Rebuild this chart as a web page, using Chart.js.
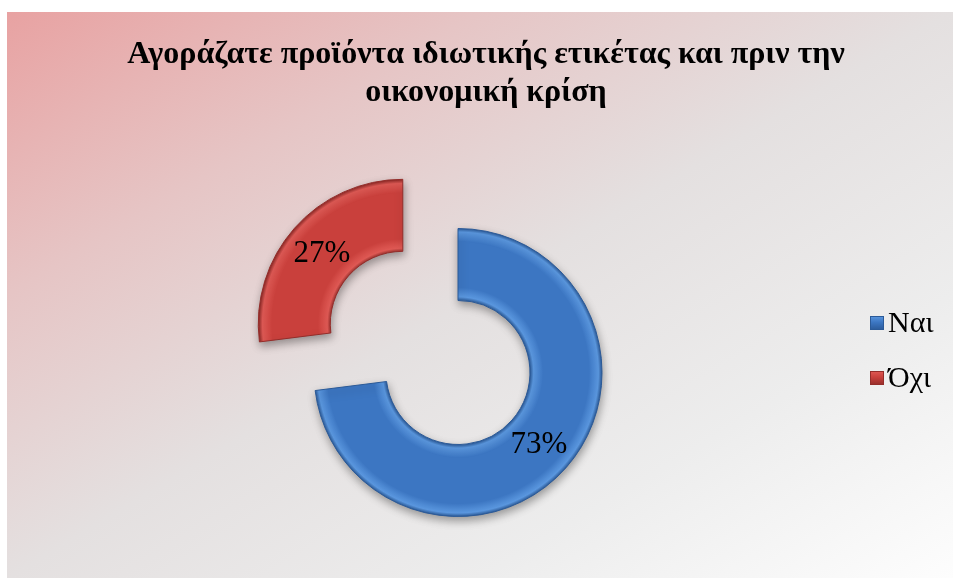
<!DOCTYPE html>
<html>
<head>
<meta charset="utf-8">
<script src="https://cdn.jsdelivr.net/npm/chart.js@4.4.1/dist/chart.umd.min.js"></script>
<style>
  html, body { margin: 0; padding: 0; background: #ffffff; }
  canvas { display: block; }
</style>
</head>
<body>
<canvas id="chart" width="955" height="581"></canvas>
<script>
// Chart content
const titleLines = ['Αγοράζατε προϊόντα ιδιωτικής ετικέτας και πριν την', 'οικονομική κρίση'];
const categories = ['Ναι', 'Όχι'];
const shares = [73, 27];

// Slice palette: highlight / body / edge tones
const sliceLight = ['#5b98e0', '#e05a55'];
const sliceBase = ['#3c76c2', '#c9403c'];
const sliceDark = ['#2b5a98', '#942d2a'];

const RING_RADIUS = 144;
const CUTOUT = 0.5;

function sliceFill(ctx) {
  const chart = ctx.chart;
  const area = chart.chartArea;
  const i = ctx.dataIndex;
  if (!area) return sliceBase[i];
  const cx = (area.left + area.right) / 2;
  const cy = (area.top + area.bottom) / 2;
  const rIn = RING_RADIUS * CUTOUT;
  const g = chart.ctx.createRadialGradient(cx, cy, rIn, cx, cy, RING_RADIUS);
  g.addColorStop(0, sliceDark[i]);
  g.addColorStop(0.05, sliceLight[i]);
  g.addColorStop(0.18, sliceBase[i]);
  g.addColorStop(0.82, sliceBase[i]);
  g.addColorStop(0.95, sliceLight[i]);
  g.addColorStop(1, sliceDark[i]);
  return g;
}

// Panel background with a diagonal rose-to-white wash
const panelBackground = {
  id: 'panelBackground',
  beforeDraw(chart) {
    const c = chart.ctx;
    c.save();
    c.fillStyle = '#ffffff';
    c.fillRect(0, 0, chart.width, chart.height);
    const x0 = 7, y0 = 12, w = 946, h = 566;
    const k = (2 * w * h) / (w * w + h * h);
    const g = c.createLinearGradient(x0, y0, x0 + k * h, y0 + k * w);
    g.addColorStop(0, '#e8a2a2');
    g.addColorStop(0.25, '#e6c5c5');
    g.addColorStop(0.5, '#e4e0e0');
    g.addColorStop(0.75, '#ededed');
    g.addColorStop(1, '#fdfdfd');
    c.fillStyle = g;
    c.fillRect(x0, y0, w, h);
    c.restore();
  }
};

// Soft drop shadow under the ring
const ringShadow = {
  id: 'ringShadow',
  beforeDatasetsDraw(chart) {
    const c = chart.ctx;
    c.save();
    c.shadowColor = 'rgba(0,0,0,0.35)';
    c.shadowBlur = 9;
    c.shadowOffsetX = 1;
    c.shadowOffsetY = 4;
  },
  afterDatasetsDraw(chart) {
    chart.ctx.restore();
  }
};

// Percentage labels at the middle of each slice
const sliceLabels = {
  id: 'sliceLabels',
  afterDatasetsDraw(chart) {
    const c = chart.ctx;
    const meta = chart.getDatasetMeta(0);
    const values = chart.data.datasets[0].data;
    const total = values.reduce((a, b) => a + b, 0);
    c.save();
    c.font = '31px "Liberation Serif", "Times New Roman", serif';
    c.fillStyle = '#000000';
    c.textAlign = 'center';
    c.textBaseline = 'middle';
    meta.data.forEach((arc, i) => {
      const p = arc.getProps(['x', 'y', 'startAngle', 'endAngle', 'innerRadius', 'outerRadius'], true);
      const mid = (p.startAngle + p.endAngle) / 2;
      const shift = (arc.options.offset || 0) / 4;
      const r = shift + (p.innerRadius + p.outerRadius) / 2;
      const text = Math.round(values[i] / total * 100) + '%';
      c.fillText(text, p.x + Math.cos(mid) * r, p.y + Math.sin(mid) * r + 1);
    });
    c.restore();
  }
};

// Title and legend
const chartText = {
  id: 'chartText',
  afterDraw(chart) {
    const c = chart.ctx;
    c.save();
    c.fillStyle = '#000000';
    c.textAlign = 'center';
    c.textBaseline = 'alphabetic';
    c.font = 'bold 32px "Liberation Serif", "Times New Roman", serif';
    titleLines.forEach((line, i) => c.fillText(line, 486, 63 + i * 38));

    const legendY = [323, 378];
    c.textAlign = 'left';
    c.textBaseline = 'middle';
    c.font = '30px "Liberation Serif", "Times New Roman", serif';
    categories.forEach((name, i) => {
      const bx = 870, by = legendY[i] - 7, bs = 14;
      const g = c.createLinearGradient(bx, by, bx, by + bs);
      g.addColorStop(0, sliceLight[i]);
      g.addColorStop(0.45, sliceBase[i]);
      g.addColorStop(1, sliceDark[i]);
      c.fillStyle = g;
      c.fillRect(bx, by, bs, bs);
      c.strokeStyle = sliceDark[i];
      c.lineWidth = 1;
      c.strokeRect(bx + 0.5, by + 0.5, bs - 1, bs - 1);
      c.fillStyle = '#000000';
      c.fillText(name, 888, legendY[i] + 1);
    });
    c.restore();
  }
};

new Chart(document.getElementById('chart'), {
  type: 'doughnut',
  data: {
    labels: categories,
    datasets: [{
      data: shares,
      backgroundColor: sliceFill,
      borderColor: sliceDark,
      borderWidth: 1,
      borderJoinStyle: 'miter',
      radius: RING_RADIUS,
      cutout: (CUTOUT * 100) + '%',
      offset: [0, 294],
      hoverOffset: 0
    }]
  },
  options: {
    responsive: false,
    animation: false,
    events: [],
    layout: { padding: { top: 164, bottom: 0, left: 0, right: 39 } },
    plugins: {
      title: { display: false },
      legend: { display: false },
      tooltip: { enabled: false }
    }
  },
  plugins: [panelBackground, ringShadow, sliceLabels, chartText]
});
</script>
</body>
</html>
